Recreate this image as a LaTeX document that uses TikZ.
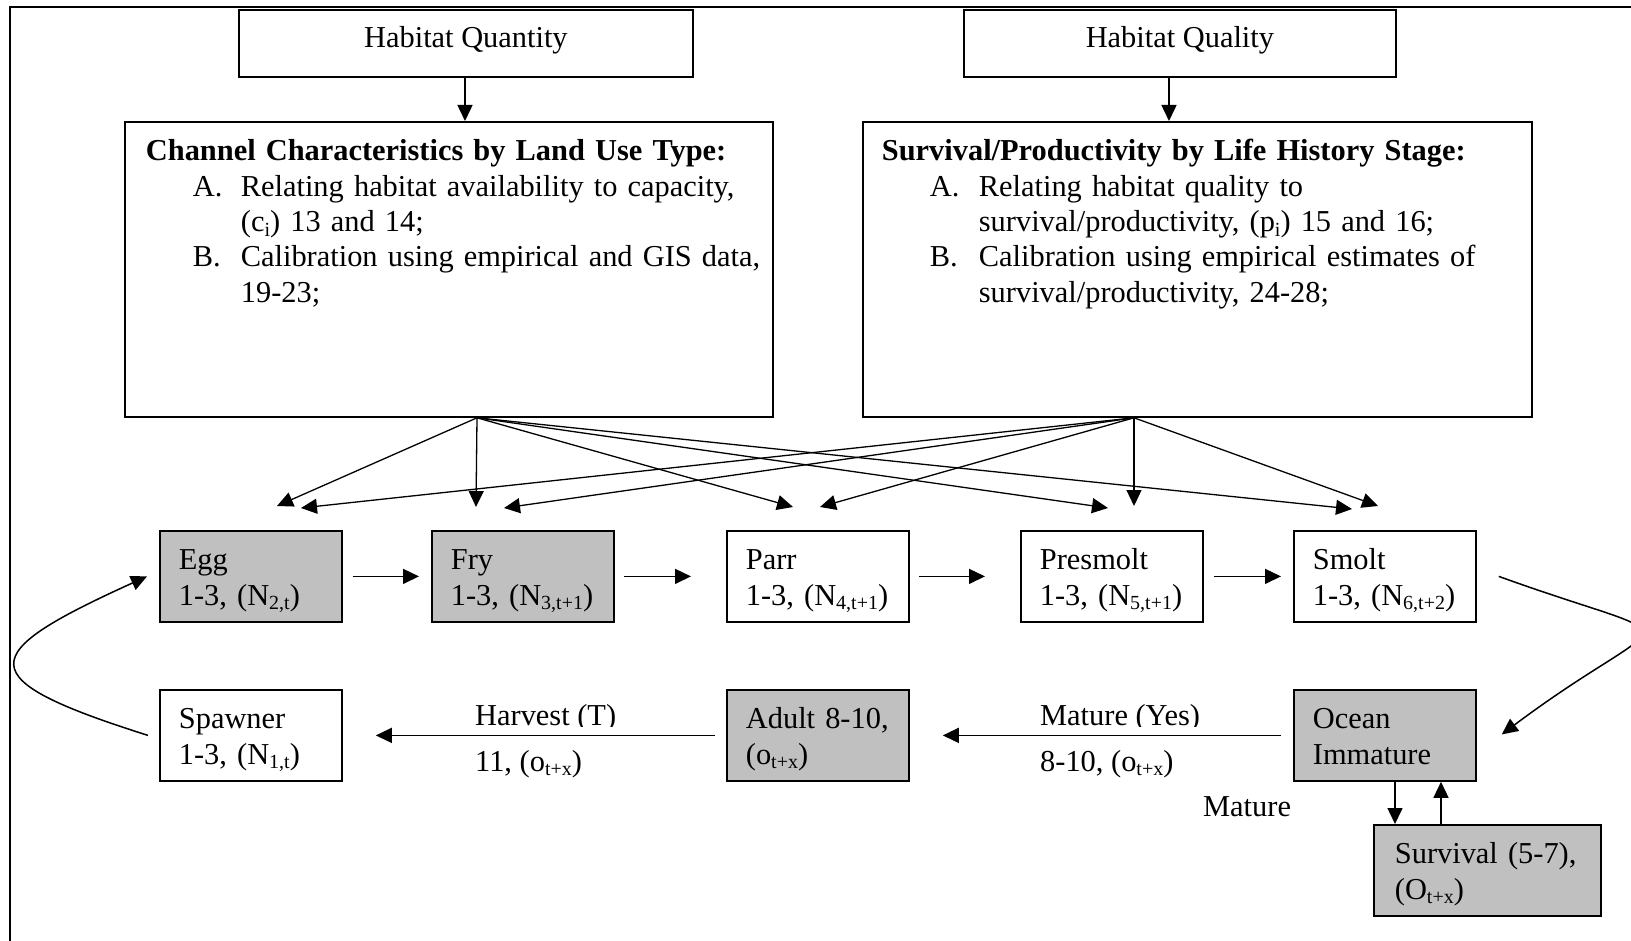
\documentclass[tikz,border=0pt]{standalone}
\usepackage{fontspec}
\setmainfont{Liberation Serif}
\usetikzlibrary{arrows.meta,calc}
\definecolor{boxgray}{HTML}{C0C0C0}
\newcommand\myfs{\fontsize{30.4pt}{35.3pt}\selectfont}
\newcommand\lsub[1]{\raisebox{-0.15em}{\fontsize{20pt}{20pt}\selectfont #1}}
\newcommand\twoline[3][19pt]{\rule{0pt}{39pt}\hspace*{#1}#2\\\hspace*{#1}#3\rule[-16.7pt]{0pt}{16.7pt}}
\tikzset{
  stage/.style={draw, line width=1.8pt, anchor=north west, inner sep=0pt,
    text width=182pt, align=left, font=\myfs},
  grayfill/.style={fill=boxgray},
  topbox/.style={draw, line width=1.8pt, anchor=north west, inner sep=0pt,
    minimum height=67pt, font=\myfs},
  bigbox/.style={draw, line width=1.8pt, anchor=north west, inner sep=0pt,
    align=left, font=\myfs},
  lbl/.style={anchor=base west, inner sep=0pt, font=\myfs},
  arr/.style={-{Triangle[length=16pt,width=15pt]}, line width=1.5pt},
}
\begin{document}
\begin{tikzpicture}[x=1pt,y=-1pt]
\useasboundingbox (0,0) rectangle (1631,941);
% frame
\draw[line width=2.5pt] (10,960) -- (10,7) -- (1660,7);

% top boxes
\node[topbox, minimum width=454pt] (hqn) at (238,9)
  {\rule{0pt}{37.5pt}Habitat Quantity\rule[-29.5pt]{0pt}{29.5pt}};
\node[topbox, minimum width=432pt] (hql) at (963,9)
  {\rule{0pt}{37.5pt}Habitat Quality\rule[-29.5pt]{0pt}{29.5pt}};

% big boxes
\node[bigbox, text width=648pt] (chan) at (124,121)
  {\rule{0pt}{39pt}\hspace*{21pt}\textbf{Channel Characteristics by Land Use Type:}\\
   \hspace*{68pt}\makebox[48pt][l]{A.}Relating habitat availability to capacity,\\
   \hspace*{116pt}(c\lsub{i}) 13 and 14;\\
   \hspace*{68pt}\makebox[48pt][l]{B.}Calibration using empirical and GIS data,\\
   \hspace*{116pt}19-23;\rule[-114.8pt]{0pt}{114.8pt}};
\node[bigbox, text width=669pt] (surv) at (862,121)
  {\rule{0pt}{39pt}\hspace*{19pt}\textbf{Survival/Productivity by Life History Stage:}\\
   \hspace*{67pt}\makebox[49pt][l]{A.}Relating habitat quality to\\
   \hspace*{116pt}survival/productivity, (p\lsub{i}) 15 and 16;\\
   \hspace*{67pt}\makebox[49pt][l]{B.}Calibration using empirical estimates of\\
   \hspace*{116pt}survival/productivity, 24-28;\rule[-114.8pt]{0pt}{114.8pt}};

\draw[arr] (hqn.south -| 465,0) -- (chan.north -| 465,0);
\draw[arr] (hql.south -| 1169,0) -- (surv.north -| 1169,0);

% stage boxes
\node[stage, grayfill] (egg) at (159,530) {\twoline{Egg}{1-3, (N\lsub{2,t})}};
\node[stage, grayfill] (fry) at (431,530) {\twoline{Fry}{1-3, (N\lsub{3,t+1})}};
\node[stage] (parr) at (726,530) {\twoline{Parr}{1-3, (N\lsub{4,t+1})}};
\node[stage] (pres) at (1020,530) {\twoline{Presmolt}{1-3, (N\lsub{5,t+1})}};
\node[stage] (smolt) at (1293,530) {\twoline{Smolt}{1-3, (N\lsub{6,t+2})}};
\node[stage] (spawn) at (159,689) {\twoline{Spawner}{1-3, (N\lsub{1,t})}};
\node[stage, grayfill] (adult) at (726,689) {\twoline{Adult 8-10,}{(o\lsub{t+x})}};
\node[stage, grayfill] (ocean) at (1293,689) {\twoline{Ocean}{Immature}};
\node[stage, grayfill, text width=227pt] (osurv) at (1373,824)
  {\twoline[21pt]{Survival (5-7),}{(O\lsub{t+x})}};

% fan origins and tips
\coordinate (cs) at ($(chan.south west)+(353,0)$);
\coordinate (ss) at ($(surv.south west)+(272,0)$);
\coordinate (ce) at (277,506);
\coordinate (cf) at (476,507);
\coordinate (cp) at (793,507);
\coordinate (cm) at (1108,508);
\coordinate (csm) at (1352,509);
\coordinate (se) at (301,508);
\coordinate (sf) at (504,508);
\coordinate (sp) at (820,507);
\coordinate (sm) at (1134,506);
\coordinate (ssm) at (1378,506);
\foreach \t in {ce,cf,cp,cm,csm} \draw[arr, line width=1.3pt] (cs) -- (\t);
\foreach \t in {se,sf,sp,sm,ssm} \draw[arr, line width=1.3pt] (ss) -- (\t);

% row arrows
\draw[arr, shorten <=10pt, shorten >=12pt] (egg) -- (fry);
\draw[arr, shorten <=9pt, shorten >=35pt] (fry) -- (parr);
\draw[arr, shorten <=9pt, shorten >=35pt] (parr) -- (pres);
\draw[arr, shorten <=10pt, shorten >=12pt] (pres) -- (smolt);
\draw[arr, shorten <=12pt, shorten >=33pt] (ocean.west) -- (adult.east);
\draw[arr, shorten <=11pt, shorten >=33pt] (adult.west) -- (spawn.east);

% ocean <-> survival
\coordinate (dx) at (1395,0);
\coordinate (ux) at (1441,0);
\draw[arr] (ocean.south -| dx) -- (osurv.north -| dx);
\draw[arr] (osurv.north -| ux) -- (ocean.south -| ux);

% curves
\draw[arr] ([xshift=22pt]smolt.east) .. controls +(202,73) and +(172,-129) .. ([xshift=25pt,yshift=1pt]ocean.east);
\draw[arr] ([xshift=-11pt]spawn.west) .. controls +(-180,-57) and +(-172,78) .. ([xshift=-12pt]egg.west);

% labels
\begin{scope}
  \clip (460,670) rectangle (700,726);
  \node[lbl] (harv) at (475,725) {Harvest (T)};
\end{scope}
\begin{scope}
  \clip (1030,670) rectangle (1270,726);
  \node[lbl] (matyes) at (1040,725) {Mature (Yes)};
\end{scope}
\node[lbl] (harvn) at (475,771) {11, (o\lsub{t+x})};
\node[lbl] (matn) at (1040,771) {8-10, (o\lsub{t+x})};
\node[lbl] (mat) at (1203,816) {Mature};
\end{tikzpicture}
\end{document}
